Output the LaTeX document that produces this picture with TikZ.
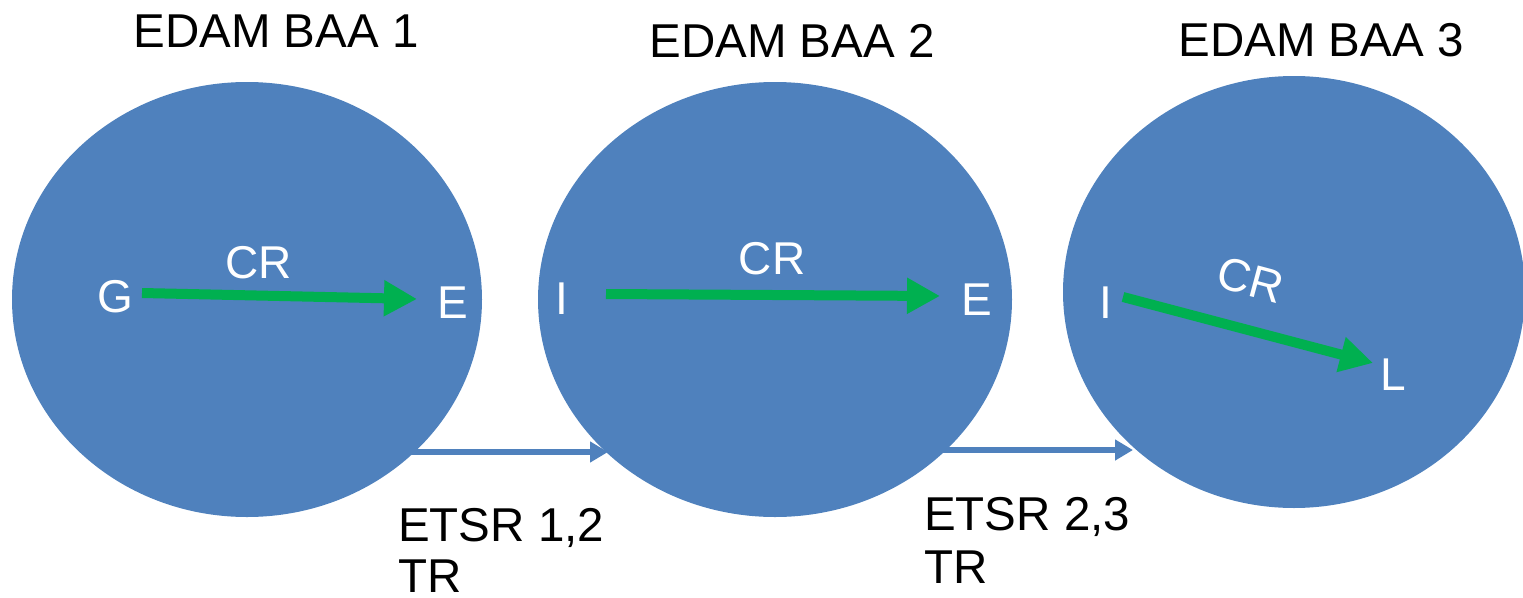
\documentclass[tikz,border=0pt]{standalone}
\usepackage{fontspec}
\setmainfont{Liberation Sans}
\usetikzlibrary{shapes.geometric,arrows.meta}
\definecolor{baablue}{HTML}{4F81BD}
\definecolor{crgreen}{HTML}{00B050}
\begin{document}
\begin{tikzpicture}[x=1pt,y=-1pt,
  baa/.style={ellipse, fill=baablue, draw=none, inner sep=0pt},
  lbl/.style={font=\fontsize{46}{50}\selectfont, inner sep=0pt, anchor=base},
  biglbl/.style={font=\fontsize{47.5}{52}\selectfont, inner sep=0pt, anchor=base},
  wlbl/.style={lbl, text=white},
  crarrow/.style={draw=crgreen, line width=10pt, -{Triangle[length=33pt,width=34pt]}},
  trarrow/.style={draw=baablue, line width=5.5pt, -{Triangle[length=18pt,width=20pt]}}]
\useasboundingbox (0,0) rectangle (1523,597);
\clip (0,0) rectangle (1523,597);
% ellipses
\node[baa, minimum width=470pt, minimum height=435pt] (b1) at (247,299.5) {};
\node[baa, minimum width=474pt, minimum height=435pt] (b2) at (775,299.5) {};
\node[baa, minimum width=462pt, minimum height=432pt] (b3) at (1294,292) {};
% titles
\node[biglbl] (t1) at (276,47) {EDAM BAA 1};
\node[biglbl] (t2) at (792,57) {EDAM BAA 2};
\node[biglbl] (t3) at (1321,56) {EDAM BAA 3};
% inner labels
\node[wlbl] (g1) at (115,312) {G};
\node[wlbl] (e1) at (453,318) {E};
\node[wlbl] (cr1) at (259,278) {CR};
\node[wlbl] (i2) at (562,314) {I};
\node[wlbl] (cr2) at (772,274) {CR};
\node[wlbl] (e2) at (977,315) {E};
\node[wlbl] (i3) at (1106,318) {I};
\node[wlbl, anchor=center, rotate=-15] (cr3) at (1251,280) {CR};
\node[wlbl] (l3) at (1393,390) {L};
% transfer labels
\node[biglbl, anchor=base west] (s12) at (398,541) {ETSR 1,2};
\node[biglbl, anchor=base west] (s12b) at (398,592) {TR};
\node[biglbl, anchor=base west] (s23) at (924,530) {ETSR 2,3};
\node[biglbl, anchor=base west] (s23b) at (924,583) {TR};
% arrow end points
\coordinate (a1s) at (142,293); \coordinate (a1e) at (417,299);
\coordinate (a2s) at (606,294); \coordinate (a2e) at (940,296);
\coordinate (a3s) at (1123,297); \coordinate (a3e) at (1373,363);
\coordinate (t12s) at (410,452); \coordinate (t12e) at (608,452);
\coordinate (t23s) at (933,450); \coordinate (t23e) at (1133,450);
% arrows
\draw[crarrow] (a1s) -- (a1e);
\draw[crarrow] (a2s) -- (a2e);
\draw[crarrow] (a3s) -- (a3e);
\draw[trarrow] (t12s) -- (t12e);
\draw[trarrow] (t23s) -- (t23e);
\end{tikzpicture}
\end{document}
